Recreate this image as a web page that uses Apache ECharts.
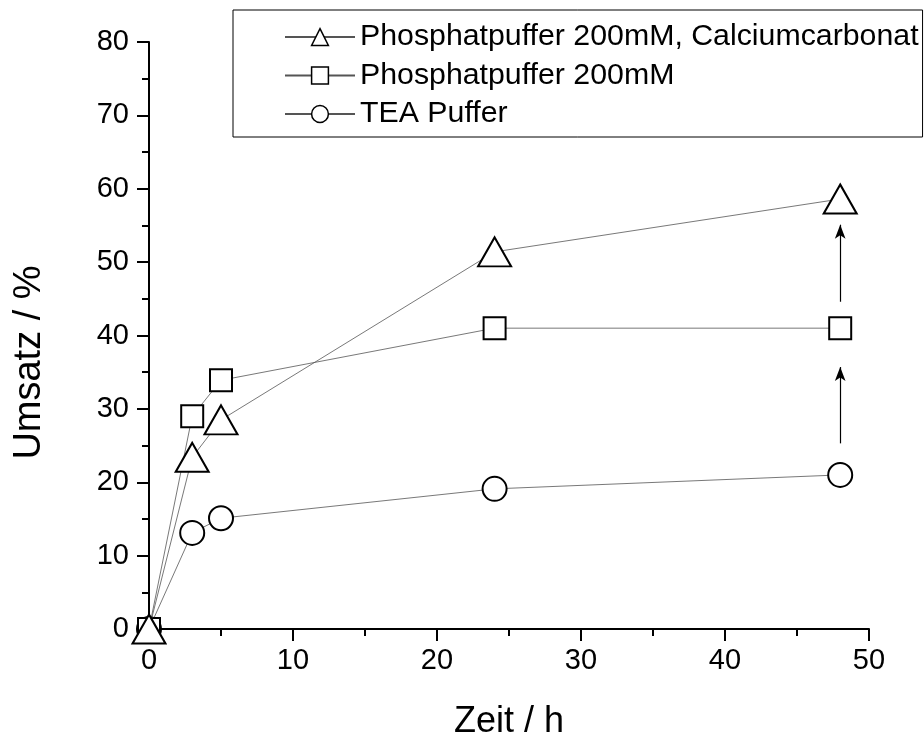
<!DOCTYPE html>
<html>
<head>
<meta charset="utf-8">
<script src="https://cdn.jsdelivr.net/npm/echarts@6/dist/echarts.min.js"></script>
<style>
  html, body { margin: 0; padding: 0; background: #fff; }
  #chart { width: 924px; height: 736px; }
</style>
</head>
<body>
<div id="chart"></div>
<script>
// Reaction time in hours
const zeit = [0, 3, 5, 24, 48];

// Conversion (%) for each buffer system
const phosphatCalcium = [0, 23.4, 28.5, 51.4, 58.6];
const phosphat = [0, 29.0, 33.9, 41.0, 41.0];
const teaPuffer = [0, 13.1, 15.1, 19.1, 21.0];

const seriesNames = [
  'Phosphatpuffer 200mM, Calciumcarbonat',
  'Phosphatpuffer 200mM',
  'TEA Puffer'
];

// Arrows at 48 h showing the improvement between the buffers
const arrowX = 48;
const arrowSegments = [[25.3, 35.7], [44.6, 55.1]];

const FONT = '"Liberation Sans", Arial, sans-serif';

function pairs(xs, ys) { return xs.map((x, i) => [x, ys[i]]); }

const lineStyle = { color: '#555', width: 0.8 };
const markerStyle = { color: '#fff', borderColor: '#000', borderWidth: 2 };

const chart = echarts.init(document.getElementById('chart'), null, { renderer: 'canvas' });

chart.setOption({
  animation: false,
  backgroundColor: '#fff',
  grid: {
    left: 149, right: 55, top: 42, bottom: 107,
    containLabel: false,
    outerBoundsMode: 'none'
  },
  legend: {
    orient: 'vertical',
    left: 233,
    top: 10,
    padding: [12, 4, 8, 51],
    itemGap: 8.5,
    itemWidth: 70,
    itemHeight: 21,
    borderColor: '#000',
    borderWidth: 1,
    itemStyle: { borderWidth: 1.5 },
    textStyle: { fontFamily: FONT, fontSize: 30.3, color: '#000' },
    data: seriesNames
  },
  xAxis: {
    type: 'value',
    min: 0, max: 50, interval: 10,
    name: 'Zeit / h',
    nameLocation: 'middle',
    nameGap: 75,
    nameTextStyle: { fontFamily: FONT, fontSize: 36, color: '#000', verticalAlign: 'top' },
    axisLine: { show: true, onZero: false, lineStyle: { color: '#000', width: 2 } },
    axisTick: { show: true, inside: false, length: 12, lineStyle: { color: '#000', width: 2 } },
    minorTick: { show: true, splitNumber: 2, length: 7, lineStyle: { color: '#000', width: 2 } },
    axisLabel: { fontFamily: FONT, fontSize: 29, color: '#000', margin: 17 },
    splitLine: { show: false }
  },
  yAxis: {
    type: 'value',
    min: 0, max: 80, interval: 10,
    name: 'Umsatz / %',
    nameLocation: 'middle',
    nameGap: 100,
    nameTextStyle: { fontFamily: FONT, fontSize: 38, color: '#000', padding: [0, 54, 0, 0] },
    axisLine: { show: true, onZero: false, lineStyle: { color: '#000', width: 2 } },
    axisTick: { show: true, inside: false, length: 12, lineStyle: { color: '#000', width: 2 } },
    minorTick: { show: true, splitNumber: 2, length: 7, lineStyle: { color: '#000', width: 2 } },
    axisLabel: { fontFamily: FONT, fontSize: 29, color: '#000', margin: 20 },
    splitLine: { show: false }
  },
  series: [
    {
      name: seriesNames[0],
      type: 'line',
      data: pairs(zeit, phosphatCalcium),
      symbol: 'triangle',
      symbolSize: [33, 29],
      lineStyle: lineStyle,
      itemStyle: markerStyle,
      z: 4
    },
    {
      name: seriesNames[1],
      type: 'line',
      data: pairs(zeit, phosphat),
      symbol: 'rect',
      symbolSize: 22,
      lineStyle: lineStyle,
      itemStyle: markerStyle,
      z: 3,
      markLine: {
        silent: true,
        symbol: ['none', 'arrow'],
        symbolSize: [8, 14],
        label: { show: false },
        lineStyle: { color: '#000', width: 1.2, type: 'solid' },
        data: arrowSegments.map(s => [
          { coord: [arrowX, s[0]] },
          { coord: [arrowX, s[1]] }
        ])
      }
    },
    {
      name: seriesNames[2],
      type: 'line',
      data: pairs(zeit, teaPuffer),
      symbol: 'circle',
      symbolSize: 24,
      lineStyle: lineStyle,
      itemStyle: markerStyle,
      z: 2
    }
  ]
});
</script>
</body>
</html>
